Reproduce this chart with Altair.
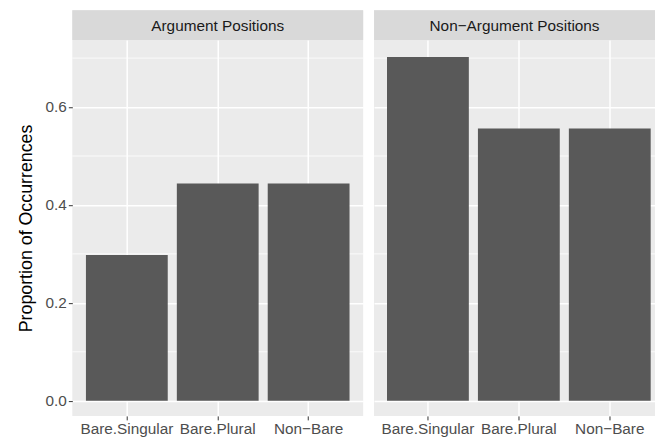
import altair as alt
import pandas as pd

FONT = "Liberation Sans"

panels = ["Argument Positions", "Non\u2212Argument Positions"]
categories = ["Bare.Singular", "Bare.Plural", "Non\u2212Bare"]
arg_values = [0.298, 0.444, 0.444]
nonarg_values = [0.702, 0.556, 0.556]
major_breaks = [0.0, 0.2, 0.4, 0.6]
minor_breaks = [0.1, 0.3, 0.5, 0.7]
y_domain = [-0.031, 0.737]

PANEL_H = 380
STRIP_H = 30


def make_panel(name, values, width, left, pad_outer, align):
    df = pd.DataFrame({"category": categories, "value": values})
    yscale = alt.Scale(domain=y_domain, nice=False, zero=False)
    xscale = alt.Scale(domain=categories, paddingInner=0.1,
                       paddingOuter=pad_outer, align=align)
    if left:
        yaxis = alt.Axis(values=major_breaks, format=".1f", grid=True,
                         title="Proportion of Occurrences", titlePadding=10)
    else:
        yaxis = alt.Axis(values=major_breaks, grid=True, labels=False,
                         ticks=False, title=None, domain=False)
    bars = alt.Chart(df).mark_bar(color="#595959").encode(
        x=alt.X("category:N", sort=categories, scale=xscale,
                axis=alt.Axis(title=None, labelAngle=0, bandPosition=0.5,
                              grid=True)),
        y=alt.Y("value:Q", scale=yscale, axis=yaxis),
    )
    minor = alt.Chart(pd.DataFrame({"value": minor_breaks})).mark_rule(
        color="white", strokeWidth=0.8
    ).encode(y=alt.Y("value:Q", scale=yscale, axis=yaxis))
    body = alt.layer(minor, bars).properties(width=width, height=PANEL_H)

    strip_df = pd.DataFrame({"panel": [name]})
    strip_rect = alt.Chart(strip_df).mark_rect(color="#D9D9D9").encode(
        x=alt.value(0), x2=alt.value(width), y=alt.value(0), y2=alt.value(STRIP_H)
    )
    strip_text = alt.Chart(strip_df).mark_text(
        font=FONT, fontSize=15.5, color="#1A1A1A", baseline="middle"
    ).encode(x=alt.value(width / 2), y=alt.value(STRIP_H / 2 + 1), text="panel:N")
    strip = alt.layer(strip_rect, strip_text).properties(width=width, height=STRIP_H)
    return alt.vconcat(strip, body, spacing=0)


left_panel = make_panel(panels[0], arg_values, 294, True, 0.15, 0.5)
right_panel = make_panel(panels[1], nonarg_values, 284, False, 0.095, 0.75)

chart = (
    alt.hconcat(left_panel, right_panel, spacing=9)
    .properties(padding={"left": 9, "top": 0, "right": 0, "bottom": 0},
                background="white")
    .configure_view(fill="#EBEBEB", stroke=None)
    .configure_axis(
        labelFont=FONT, labelFontSize=15.5, labelColor="#4D4D4D",
        titleFont=FONT, titleFontSize=18, titleColor="#000000",
        titleFontWeight="normal",
        tickColor="#333333", tickSize=4, tickWidth=1, labelPadding=2,
        domain=False, gridColor="white", gridWidth=1.5,
    )
    .configure_concat(spacing=0)
)

chart.save("out.html", embed_options={"renderer": "svg", "actions": False})
